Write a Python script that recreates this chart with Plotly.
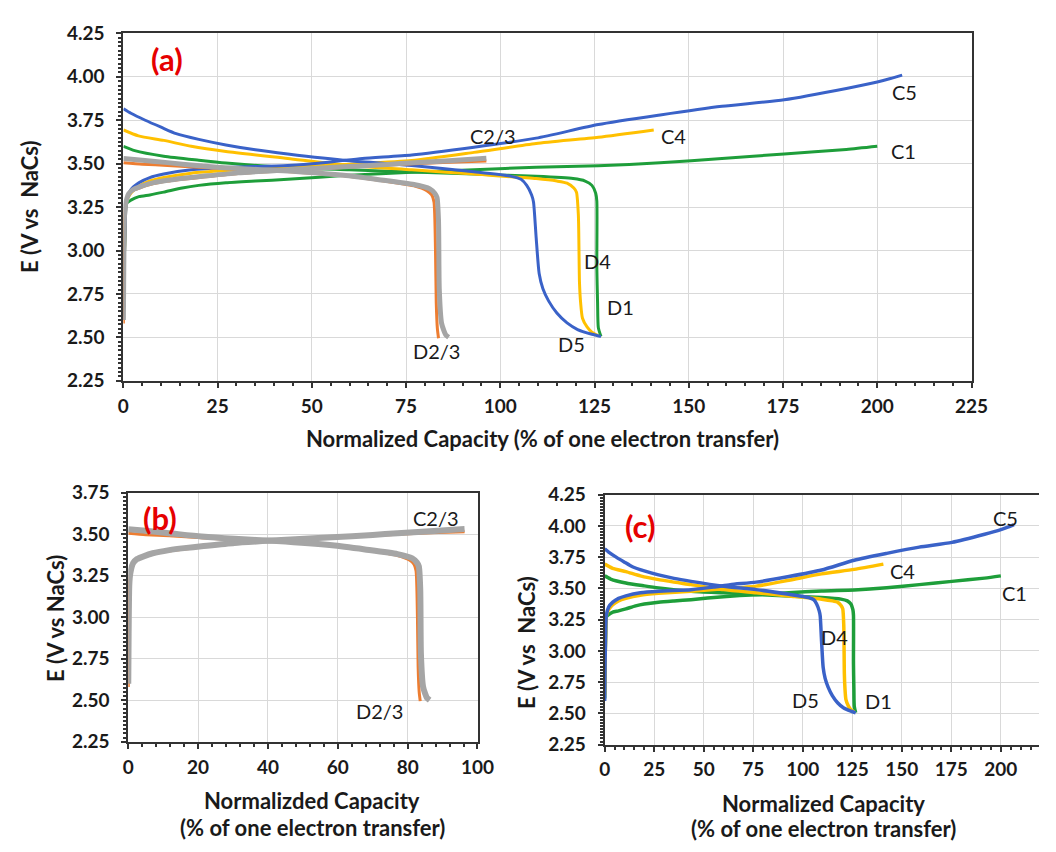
import plotly.graph_objects as go

# ---------------- data ----------------
# 1st cycle (green), 4th (yellow), 5th (blue) : panels (a) and (c)
c1_x = [0, 0.2, 0.5, 0.8, 2, 4.1, 7, 10.7, 15.6, 20, 27.2, 35, 43.6, 60, 76.5, 93, 109.5, 126, 142.4, 158.8, 175.3, 191.8, 200]
c1_y = [2.62, 2.9, 3.15, 3.27, 3.29, 3.31, 3.32, 3.336, 3.36, 3.375, 3.39, 3.40, 3.41, 3.434, 3.45, 3.465, 3.48, 3.488, 3.505, 3.53, 3.556, 3.582, 3.60]
d1_x = [0, 3, 10.7, 20, 27.2, 43.6, 60, 76.5, 93, 109.5, 119.3, 122.5, 124.3, 125.3, 125.6, 125.6, 125.8, 126, 126.7]
d1_y = [3.60, 3.575, 3.543, 3.52, 3.504, 3.478, 3.465, 3.452, 3.44, 3.427, 3.414, 3.40, 3.375, 3.33, 3.284, 2.9, 2.7, 2.556, 2.505]

c4_x = [0, 0.2, 0.5, 0.8, 2, 4.1, 7, 10.7, 18, 27.2, 43.6, 60, 76.5, 93, 109.5, 126, 140.7]
c4_y = [2.65, 2.9, 3.15, 3.28, 3.33, 3.37, 3.40, 3.42, 3.445, 3.46, 3.478, 3.497, 3.518, 3.565, 3.616, 3.652, 3.694]
d4_x = [0, 4, 10.7, 18, 27.2, 43.6, 60, 76.5, 93, 109.5, 115, 117.7, 119.5, 120.2, 120.7, 121, 121.3, 121.8, 123, 124.3, 126]
d4_y = [3.694, 3.66, 3.634, 3.60, 3.57, 3.53, 3.49, 3.465, 3.44, 3.414, 3.40, 3.388, 3.36, 3.336, 3.206, 2.816, 2.7, 2.61, 2.56, 2.53, 2.51]

c5_x = [0, 0.2, 0.5, 0.8, 2, 4.1, 7, 10.7, 18, 27.2, 43.6, 55, 63.4, 76.5, 93, 109.5, 126, 142.4, 158.8, 175.3, 191.8, 200, 203.5, 206.6]
c5_y = [2.6, 2.9, 3.15, 3.28, 3.35, 3.39, 3.42, 3.44, 3.465, 3.478, 3.49, 3.51, 3.53, 3.55, 3.595, 3.647, 3.725, 3.78, 3.83, 3.868, 3.933, 3.97, 3.99, 4.01]
d5_x = [0, 2, 5.8, 10, 14, 20, 27.2, 35, 43.6, 60, 76.5, 93, 102.9, 105.5, 107, 108.3, 108.8, 109.5, 110.3, 111.3, 112.8, 115, 117.7, 120.5, 124.3, 126.7]
d5_y = [3.816, 3.79, 3.75, 3.71, 3.673, 3.64, 3.608, 3.58, 3.556, 3.517, 3.49, 3.453, 3.427, 3.41, 3.375, 3.32, 3.28, 3.076, 2.868, 2.78, 2.71, 2.64, 2.583, 2.545, 2.518, 2.505]

# 2nd and 3rd cycles (orange, gray) : panels (a) and (b)
c2_x = [0, 0.1, 0.3, 0.6, 1.4, 2.5, 4.2, 7, 11.7, 21, 30.4, 42.5, 58.4, 77.1, 86.4, 96.3]
c2_y = [2.58, 2.85, 3.18, 3.26, 3.32, 3.345, 3.36, 3.38, 3.40, 3.423, 3.444, 3.46, 3.478, 3.50, 3.508, 3.515]
d2_x = [0, 5, 11.7, 21, 30.4, 42.5, 58.4, 67.8, 77.1, 80.5, 81.8, 82.4, 82.8, 83.0, 83.3, 83.6]
d2_y = [3.505, 3.497, 3.49, 3.478, 3.468, 3.456, 3.43, 3.405, 3.372, 3.345, 3.32, 3.28, 3.0, 2.7, 2.55, 2.495]

c3_x = [0, 0.1, 0.3, 0.6, 1.4, 2.5, 4.2, 7, 11.7, 16, 21, 30.4, 42.5, 58.4, 70, 77.1, 86.4, 96.3]
c3_y = [2.6, 2.9, 3.2, 3.267, 3.326, 3.35, 3.365, 3.385, 3.404, 3.416, 3.427, 3.447, 3.463, 3.482, 3.495, 3.506, 3.517, 3.531]
d3_x = [0, 5, 11.7, 21, 30.4, 42.5, 58.4, 67.8, 77.1, 81.3, 82.6, 83.2, 83.6, 83.8, 84.4, 85, 85.5, 86.3]
d3_y = [3.53, 3.52, 3.506, 3.486, 3.472, 3.459, 3.433, 3.408, 3.38, 3.355, 3.33, 3.306, 3.17, 2.778, 2.583, 2.54, 2.515, 2.501]

# tick values
y_ticks_ac = [2.25, 2.50, 2.75, 3.00, 3.25, 3.50, 3.75, 4.00, 4.25]
y_ticks_b = [2.25, 2.50, 2.75, 3.00, 3.25, 3.50, 3.75]
x_ticks_a = [0, 25, 50, 75, 100, 125, 150, 175, 200, 225]
x_ticks_b = [0, 20, 40, 60, 80, 100]
x_ticks_c = [0, 25, 50, 75, 100, 125, 150, 175, 200]

# ---------------- styling ----------------
W, H = 1056, 852
BLUE = "#3A62C8"
ORANGE = "#ED7D31"
GRAY = "#A5A5A5"
YELLOW = "#FFC000"
GREEN = "#1E9E3A"
FONT = "Lato, 'Open Sans', sans-serif"


def px_x(p):
    return p / W


def px_y(p):
    return 1 - p / H


fig = go.Figure()


def add(x, y, color, width, xa, ya):
    fig.add_trace(go.Scatter(x=x, y=y, mode="lines", xaxis=xa, yaxis=ya,
                             line=dict(color=color, width=width, shape="spline", smoothing=0.6),
                             showlegend=False, hoverinfo="skip"))


# panel (a)
for (x, y, col, w) in [(c1_x, c1_y, GREEN, 3), (d1_x, d1_y, GREEN, 3),
                       (c4_x, c4_y, YELLOW, 3), (d4_x, d4_y, YELLOW, 3),
                       (c5_x, c5_y, BLUE, 3), (d5_x, d5_y, BLUE, 3),
                       (c2_x, c2_y, ORANGE, 3), (d2_x, d2_y, ORANGE, 3),
                       (c3_x, c3_y, GRAY, 5), (d3_x, d3_y, GRAY, 5)]:
    add(x, y, col, w, "x", "y")

# panel (b)
for (x, y, col, w) in [(c2_x, c2_y, ORANGE, 3), (d2_x, d2_y, ORANGE, 3),
                       (c3_x, c3_y, GRAY, 6), (d3_x, d3_y, GRAY, 6)]:
    add(x, y, col, w, "x2", "y2")

# panel (c)
for (x, y, col, w) in [(c1_x, c1_y, GREEN, 3.5), (d1_x, d1_y, GREEN, 3.5),
                       (c4_x, c4_y, YELLOW, 3.5), (d4_x, d4_y, YELLOW, 3.5),
                       (c5_x, c5_y, BLUE, 3.5), (d5_x, d5_y, BLUE, 3.5)]:
    add(x, y, col, w, "x3", "y3")

tickfont = dict(family=FONT, size=19, color="#1a1a1a", weight="bold")


def xaxis(domain, rng, ticks, minor_dt, anchor):
    return dict(domain=domain, range=rng, tickvals=ticks, anchor=anchor,
                showgrid=True, gridcolor="#D9D9D9", gridwidth=1,
                showline=True, linecolor="#333333", linewidth=2, mirror=True,
                ticks="outside", ticklen=5, tickwidth=1.5, tickcolor="#333333",
                minor=dict(dtick=minor_dt, ticks="outside", ticklen=3, tickcolor="#333333", showgrid=False),
                tickfont=tickfont, zeroline=False, ticklabelstandoff=2)


def yaxis(domain, rng, ticks, anchor, mirror=True):
    return dict(domain=domain, range=rng, tickvals=ticks, anchor=anchor,
                tickformat=".2f",
                showgrid=True, gridcolor="#D9D9D9", gridwidth=1,
                showline=True, linecolor="#333333", linewidth=2, mirror=mirror,
                ticks="outside", ticklen=5, tickwidth=1.5, tickcolor="#333333",
                minor=dict(dtick=0.025, ticks="outside", ticklen=3, tickcolor="#333333", showgrid=False),
                tickfont=tickfont, zeroline=False, ticklabelstandoff=8)


# pixel geometry of the three plot areas
a_l, a_r, a_t, a_b = 120, 987, 22, 379
b_l, b_r, b_t, b_b = 125, 482, 494, 750
c_l, c_r, c_t, c_b = 612, 1056, 496, 753
c_xmax = (c_r - c_l) / 2.025

fig.update_layout(
    width=W, height=H, margin=dict(l=0, r=0, t=0, b=0),
    paper_bgcolor="white", plot_bgcolor="white",
    xaxis=xaxis([px_x(a_l), px_x(a_r)], [0, 225], x_ticks_a, 5, "y"),
    yaxis=yaxis([px_y(a_b), px_y(a_t)], [2.25, 4.25], y_ticks_ac, "x"),
    xaxis2=xaxis([px_x(b_l), px_x(b_r)], [0, 100], x_ticks_b, 4, "y2"),
    yaxis2=yaxis([px_y(b_b), px_y(b_t)], [2.25, 3.75], y_ticks_b, "x2"),
    xaxis3=xaxis([px_x(c_l), 1.0], [0, c_xmax], x_ticks_c, 5, "y3"),
    yaxis3=yaxis([px_y(c_b), px_y(c_t)], [2.25, 4.25], y_ticks_ac, "x3", mirror=False),
)

annotations = []


def text(px, py, s, size=20, color="#1a1a1a", bold=False, angle=0):
    annotations.append(dict(x=px_x(px), y=px_y(py), xref="paper", yref="paper",
                            text=s, showarrow=False, xanchor="center", yanchor="middle",
                            textangle=angle,
                            font=dict(family=FONT, size=size, color=color,
                                      weight="bold" if bold else "normal")))


RED = "#E60000"
# panel labels
text(165, 48, "(a)", 31, RED, True)
text(157, 520, "(b)", 31, RED, True)
text(649, 528, "(c)", 31, RED, True)

# curve labels (a)
text(918, 82, "C5")
text(682, 127, "C4")
text(917, 143, "C1")
text(498, 127, "C2/3")
text(605, 256, "D4")
text(628, 303, "D1")
text(578, 341, "D5")
text(440, 348, "D2/3")
# (b)
text(440, 520, "C2/3")
text(382, 718, "D2/3")
# (c)
text(1022, 520, "C5")
text(916, 575, "C4")
text(1031, 597, "C1")
text(847, 642, "D4")
text(817, 707, "D5")
text(892, 708, "D1")

# axis titles
TS = 22
text(548, 438, "Normalized Capacity (% of one electron transfer)", TS, "#1a1a1a", True)
text(24, 200, "E (V vs  NaCs)", TS, "#1a1a1a", True, -90)
text(313, 810, "Normalizded Capacity", TS, "#1a1a1a", True)
text(313, 838, "(% of one electron transfer)", TS, "#1a1a1a", True)
text(50, 623, "E (V vs NaCs)", TS, "#1a1a1a", True, -90)
text(836, 813, "Normalized Capacity", TS, "#1a1a1a", True)
text(836, 839, "(% of one electron transfer)", TS, "#1a1a1a", True)
text(532, 648, "E (V vs  NaCs)", TS, "#1a1a1a", True, -90)

fig.update_layout(annotations=annotations)

fig.write_html("out.html")
